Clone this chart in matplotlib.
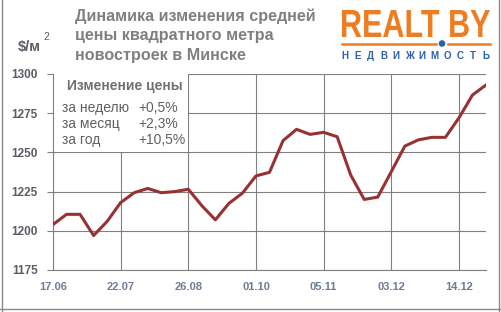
import numpy as np
import matplotlib
matplotlib.use('Agg')
import matplotlib.pyplot as plt
from matplotlib.textpath import TextPath
from matplotlib.patches import PathPatch, Rectangle, Circle
from matplotlib.font_manager import FontProperties
from matplotlib.transforms import Affine2D
from matplotlib.lines import Line2D

# weekly average price, $/m2
prices = [1204, 1210.5, 1210.5, 1197, 1206, 1218, 1224.3, 1227, 1224.3, 1225,
          1226.5, 1216, 1207, 1217.5, 1224, 1235, 1237.3, 1257.5, 1264.7, 1261.5,
          1262.8, 1260, 1235.6, 1220, 1221.5, 1237.7, 1254, 1258, 1259.6, 1259.6,
          1272, 1286.6, 1293]
tick_pos = [0, 5, 10, 15, 20, 25, 30]
tick_labels = ['17.06', '22.07', '26.08', '01.10', '05.11', '03.12', '14.12']
y_ticks = [1175, 1200, 1225, 1250, 1275, 1300]

title = 'Динамика изменения средней\nцены квадратного метра\nновостроек в Минске'
box_title = 'Изменение цены'
box_rows = ['за неделю', 'за месяц', 'за год']
box_vals = ['+0,5%', '+2,3%', '+10,5%']

W, H = 501, 312
plt.rcParams['font.family'] = ['Liberation Sans', 'DejaVu Sans']

fig = plt.figure(figsize=(W / 100, H / 100), dpi=100)
ax = fig.add_axes([53 / W, 1 - 270 / H, (486 - 53) / W, (270 - 74) / H])

x = np.arange(len(prices))
ax.plot(x, prices, color='#983232', lw=2.2, zorder=3)

ax.set_xlim(0, len(prices) - 1)
ax.set_ylim(1175, 1300)
ax.set_yticks(y_ticks)
ax.set_xticks(tick_pos)
ax.set_xticklabels(tick_labels, fontsize=8, fontweight='bold', color='#6c7c96')
ax.set_yticklabels([str(v) for v in y_ticks], fontsize=8.5, fontweight='bold', color='#5c5c66')
ax.tick_params(axis='x', length=0, pad=9)
ax.tick_params(axis='y', length=4, width=0.8, color='#808080', pad=7)
ax.grid(True, color='#808080', lw=0.8)
ax.set_axisbelow(True)
for s in ['top', 'right']:
    ax.spines[s].set_visible(False)
for s in ['left', 'bottom']:
    ax.spines[s].set_color('#808080')
    ax.spines[s].set_linewidth(0.8)

# white box for the change summary
ax.add_patch(Rectangle((0, 0.6), 10 / 32, 0.4, transform=ax.transAxes,
                       facecolor='white', edgecolor='none', zorder=2))

def px(xp, yp):
    return xp / W, 1 - yp / H

fig.text(*px(67, 86), box_title, fontsize=10, fontweight='bold', color='#707070', va='center', ha='left')
for i, (r, v) in enumerate(zip(box_rows, box_vals)):
    yy = [108, 124, 140][i]
    fig.text(*px(62, yy), r, fontsize=10, color='#606060', va='center', ha='left')
    fig.text(*px(138, yy), v, fontsize=10, color='#606060', va='center', ha='left')

# title
fig.text(*px(75, 8), title, fontsize=11.6, fontweight='bold', color='#808080',
         va='top', ha='left', linespacing=1.4)

# unit label
fig.text(*px(18, 47), '$/м', fontsize=10.5, fontweight='bold', color='#5c5c66',
         va='center', ha='left', parse_math=False)
fig.text(*px(43, 37), '2', fontsize=7.5, color='#5c5c66', va='center', ha='left')

# logo
orange = '#ee7d22'
blue = '#2c60ad'
fp = FontProperties(family='Liberation Sans', weight='bold')
path = TextPath((0, 0), 'REALT BY', size=1, prop=fp)
bb = path.get_extents()
tr = Affine2D().translate(-bb.x0, -bb.y0).scale(148 / bb.width, 27 / bb.height).translate(342, H - 37)
fig.add_artist(PathPatch(path, transform=tr, facecolor=orange, edgecolor='none'))
fig.add_artist(Line2D([342 / W, 436 / W], [1 - 43.5 / H] * 2, color=orange, lw=1.8))
fig.add_artist(Line2D([448 / W, 490 / W], [1 - 43.5 / H] * 2, color=orange, lw=1.8))
fig.add_artist(Circle((442, H - 43.5), 3.3, transform=Affine2D(), facecolor=blue, edgecolor='none'))
sub = 'НЕДВИЖИМОСТЬ'
for c, xp in zip(sub, np.linspace(345, 486, len(sub))):
    fig.text(*px(xp, 56), c, fontsize=7, fontweight='bold', color=blue, ha='center', va='center')

# outer frame
fc = '#8a8a8a'
fig.add_artist(Line2D([1.5 / W, 1.5 / W], [0, 1], color=fc, lw=1))
fig.add_artist(Line2D([498.5 / W, 498.5 / W], [0, 1], color=fc, lw=1))
fig.add_artist(Line2D([0, 1], [3.5 / H, 3.5 / H], color=fc, lw=1))

fig.savefig('out.png', dpi=100, facecolor='white')
